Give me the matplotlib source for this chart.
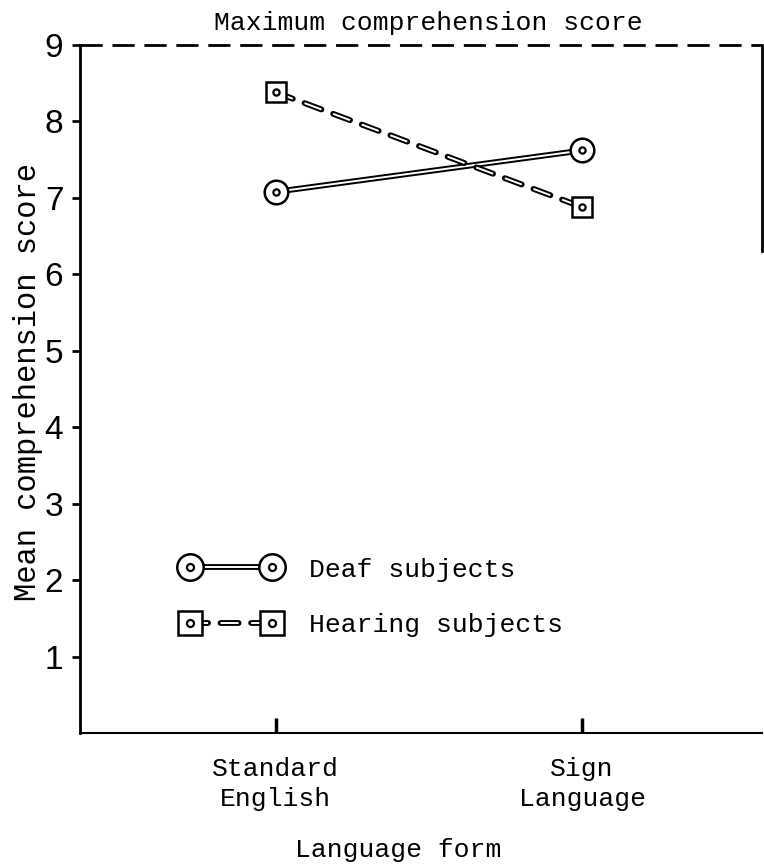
import matplotlib
matplotlib.use("Agg")
import matplotlib.pyplot as plt
import matplotlib.patheffects as pe

# mean scores per language form
forms = ["Standard\nEnglish", "Sign\nLanguage"]
deaf = [7.08, 7.62]
hearing = [8.38, 6.88]
max_score = 9
yticks = [1, 2, 3, 4, 5, 6, 7, 8, 9]

MONO = "Liberation Mono"
SANS = "Liberation Sans"

plt.rcParams["lines.scale_dashes"] = False


def outlined(ax, xs, ys, dashed):
    """Hollow 'double' line: white core with a black outline."""
    ls = (0, (13, 9)) if dashed else "-"
    line, = ax.plot(xs, ys, color="white", lw=1.4, ls=ls,
                    solid_capstyle="butt", dash_capstyle="butt", zorder=3,
                    path_effects=[pe.Stroke(linewidth=4.2, foreground="black",
                                            capstyle="round"),
                                  pe.Normal()])
    return line


def marks(ax, xs, ys, marker, size):
    outer, = ax.plot(xs, ys, ls="none", marker=marker, ms=size, mfc="white",
                     mec="black", mew=1.8, zorder=4)
    inner, = ax.plot(xs, ys, ls="none", marker="o", ms=4.5, mfc="white",
                     mec="black", mew=1.6, zorder=5)
    return outer, inner


fig = plt.figure(figsize=(7.64, 8.66), dpi=100)
ax = fig.add_axes([80 / 764, 1 - 733 / 866, 682 / 764, 688 / 866])
x = list(range(len(forms)))

deaf_line = outlined(ax, x, deaf, dashed=False)
deaf_marks = marks(ax, x, deaf, "o", 17)
hear_line = outlined(ax, x, hearing, dashed=True)
hear_marks = marks(ax, x, hearing, "s", 15)

# ceiling of the scale
ax.axhline(max_score, color="black", lw=2, ls=(0, (16, 7)), clip_on=False)

ax.set_xlim(-0.64, 1.588)
ax.set_ylim(0, 9)

ax.spines["top"].set_visible(False)
ax.spines["left"].set_linewidth(2)
ax.spines["bottom"].set_linewidth(1.5)
ax.spines["right"].set_linewidth(2)
ax.spines["right"].set_bounds(6.3, 9)

ax.set_yticks(yticks)
ax.tick_params(axis="y", direction="out", length=6, width=2, pad=6,
               labelsize=24, labelfontfamily=SANS)
ax.set_xticks(x, forms)
ax.tick_params(axis="x", direction="in", length=11, width=2.5, pad=17)
for lbl in ax.get_xticklabels():
    lbl.set_fontfamily(MONO)
    lbl.set_fontsize(19)
    lbl.set_linespacing(1.35)

ax.set_title("Maximum comprehension score", fontfamily=MONO, fontsize=19,
             pad=11, x=0.51)
ax.set_xlabel("Language form", fontfamily=MONO, fontsize=19)
ax.xaxis.label.set_va("center")
ax.xaxis.set_label_coords(0.466, -0.170)
ax.set_ylabel("Mean comprehension score", fontfamily=MONO, fontsize=22)
ax.yaxis.label.set_va("center")
ax.yaxis.set_label_coords(-0.076, 0.51)

ax.legend([(deaf_line,) + deaf_marks, (hear_line,) + hear_marks],
          ["Deaf subjects", "Hearing subjects"],
          numpoints=2, handlelength=3.7, handletextpad=1.1, markerscale=1.12,
          labelspacing=1.2, frameon=False, loc="center left",
          bbox_to_anchor=(0.15, 0.197), borderpad=0, borderaxespad=0,
          prop={"family": MONO, "size": 19})

fig.savefig("out.png", dpi=100)
